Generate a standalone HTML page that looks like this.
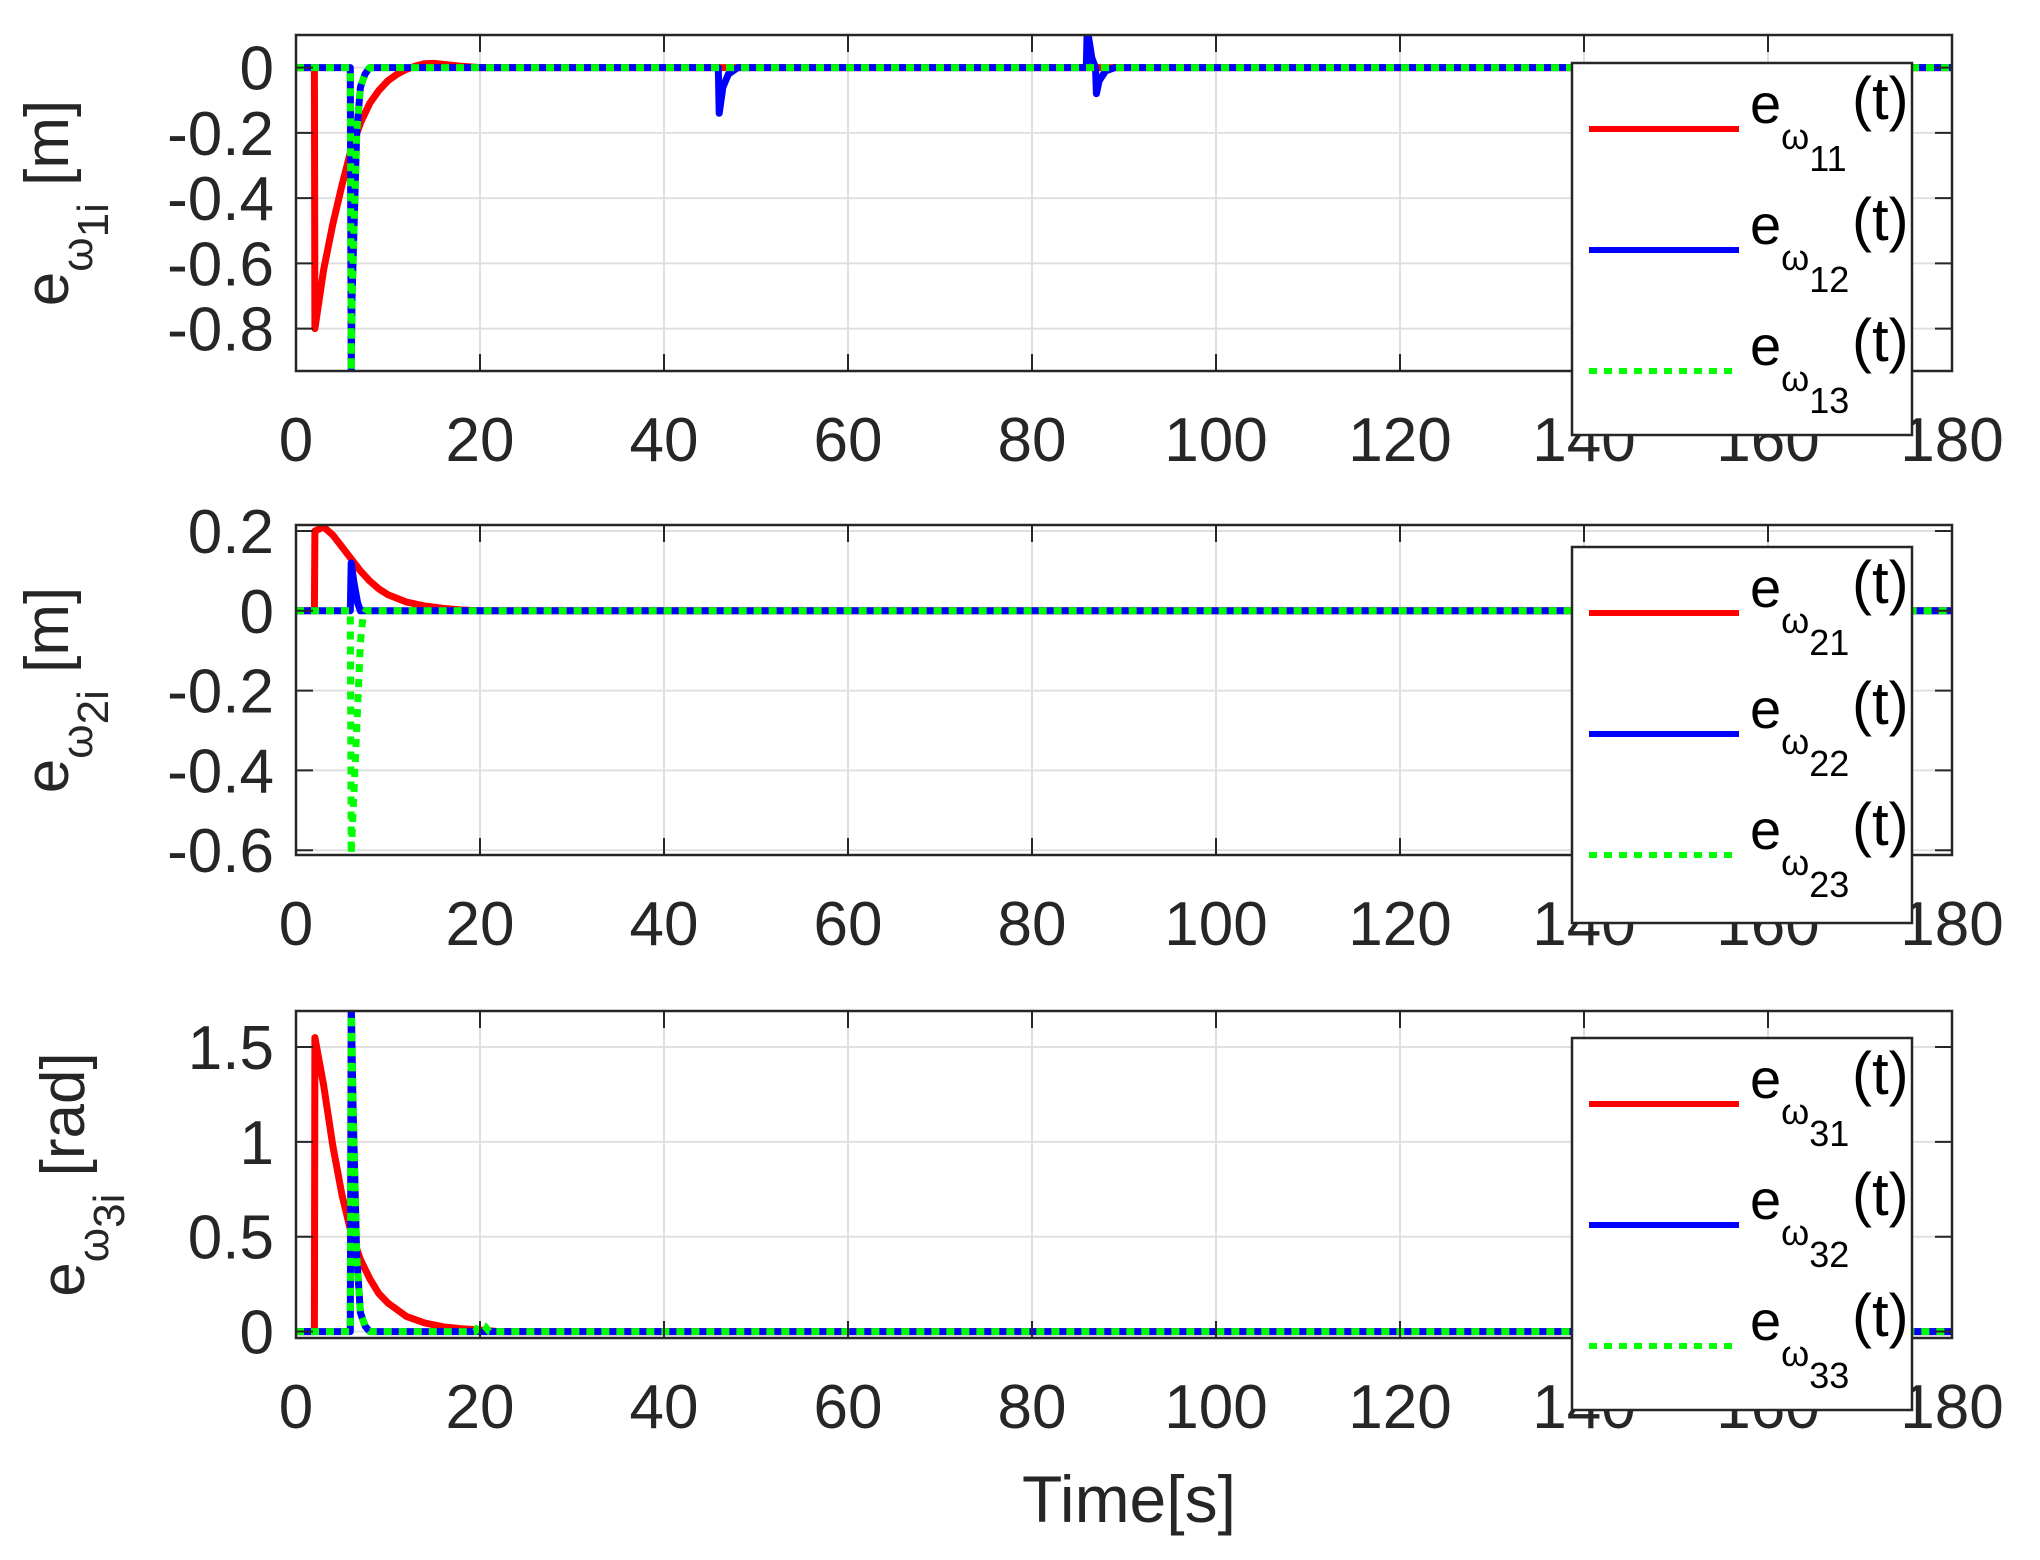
<!DOCTYPE html>
<html><head><meta charset="utf-8"><style>
html,body{margin:0;padding:0;background:#fff;}
svg{display:block;font-family:"Liberation Sans",sans-serif;}
</style></head><body>
<svg id="fig" width="2040" height="1560" viewBox="0 0 2040 1560" xmlns="http://www.w3.org/2000/svg"></svg>
<script>
// ---- data ----
const xTicks = [0,20,40,60,80,100,120,140,160,180];
const yTicks1 = [-0.8,-0.6,-0.4,-0.2,0];
const yTickLabels1 = ["-0.8","-0.6","-0.4","-0.2","0"];
const yTicks2 = [-0.6,-0.4,-0.2,0,0.2];
const yTickLabels2 = ["-0.6","-0.4","-0.2","0","0.2"];
const yTicks3 = [0,0.5,1,1.5];
const yTickLabels3 = ["0","0.5","1","1.5"];

const t11 = [0,2,2.05,3,4,5,6,7,8,9,10,11,12,13,14,15,16,18,20,30,60,100,140,180];
const e11 = [0,0,-0.8,-0.62,-0.48,-0.36,-0.25,-0.17,-0.11,-0.07,-0.04,-0.02,-0.005,0.005,0.012,0.013,0.01,0.004,0,0,0,0,0,0];
const t12 = [0,5.9,6,6.1,6.6,7,7.5,8,45.9,46,46.4,47,48,85.9,86,86.5,86.9,87,87.3,88,89,180];
const e12 = [0,0,-0.93,-0.7,-0.2,-0.06,-0.02,0,0,-0.14,-0.06,-0.02,0,0,0.12,0.03,0,-0.08,-0.04,-0.01,0,0];
const t13 = [0,5.9,6,6.1,6.6,7,7.5,8,180];
const e13 = [0,0,-0.93,-0.7,-0.2,-0.06,-0.02,0,0];

const t21 = [0,2,2.05,3,4,5,6,7,8,9,10,12,14,16,18,20,180];
const e21 = [0,0,0.2,0.21,0.19,0.16,0.13,0.1,0.075,0.055,0.04,0.022,0.012,0.006,0.002,0,0];
const t22 = [0,5.9,6,6.3,6.7,7,180];
const e22 = [0,0,0.12,0.07,0.02,0,0];
const t23 = [0,5.9,6,6.4,7,7.3,7.6,180];
const e23 = [0,0,-0.61,-0.4,-0.08,-0.01,0,0];

const t31 = [0,2,2.05,3,4,5,6,7,8,9,10,12,14,16,18,20,22,180];
const e31 = [0,0,1.55,1.3,0.98,0.72,0.52,0.38,0.28,0.2,0.15,0.08,0.045,0.025,0.015,0.008,0,0];
const t32 = [0,5.9,6,6.2,6.6,7,7.5,8,180];
const e32 = [0,0,1.75,1.2,0.4,0.1,0.03,0,0];
const t33 = [0,5.9,6,6.2,6.6,7,7.5,8,19.5,20,20.5,21,180];
const e33 = [0,0,1.75,1.2,0.4,0.1,0.03,0,0,0.04,0.03,0,0];

// ---- layout ----
const NS="http://www.w3.org/2000/svg";
const svg=document.getElementById('fig');
const L=296,R=1952;
const panels=[
 {top:35,bot:371,ymin:-0.93,ymax:0.1,yt:yTicks1,yl:yTickLabels1,idx:"1i",unit:"[m]",
  series:[[t11,e11,'#ff0000',0],[t12,e12,'#0000ff',0],[t13,e13,'#00ff00',1]],leg:{x1:1572,x2:1912,y1:63,y2:435}},
 {top:525,bot:855,ymin:-0.612,ymax:0.215,yt:yTicks2,yl:yTickLabels2,idx:"2i",unit:"[m]",
  series:[[t21,e21,'#ff0000',0],[t22,e22,'#0000ff',0],[t23,e23,'#00ff00',1]],leg:{x1:1572,x2:1912,y1:547,y2:923}},
 {top:1011,bot:1338,ymin:-0.034,ymax:1.69,yt:yTicks3,yl:yTickLabels3,idx:"3i",unit:"[rad]",
  series:[[t31,e31,'#ff0000',0],[t32,e32,'#0000ff',0],[t33,e33,'#00ff00',1]],leg:{x1:1572,x2:1912,y1:1038,y2:1410}}
];
function mk(tag,attrs,parent){const e=document.createElementNS(NS,tag);for(const k in attrs)e.setAttribute(k,attrs[k]);(parent||svg).appendChild(e);return e;}
const xs=v=>L+(v-0)/(180-0)*(R-L);

panels.forEach((p,pi)=>{
 const ys=v=>p.bot-(v-p.ymin)/(p.ymax-p.ymin)*(p.bot-p.top);
 const g=mk('g',{});
 
 
 mk('rect',{x:L,y:p.top,width:R-L,height:p.bot-p.top,fill:'#fff'},g);
 const cp=mk('clipPath',{id:'cp'+pi},g);
 mk('rect',{x:L,y:p.top,width:R-L,height:p.bot-p.top},cp);
 xTicks.forEach(v=>{const l=mk('line',{x1:xs(v),x2:xs(v),y1:p.top,y2:p.bot,stroke:'#e0e0e0','stroke-width':2},g);
   });
 p.yt.forEach(v=>{const l=mk('line',{x1:L,x2:R,y1:ys(v),y2:ys(v),stroke:'#e0e0e0','stroke-width':2},g);
   });
 p.series.forEach((s,si)=>{
  const [tt,vv,col,dot]=s;
  const d=tt.map((t,i)=>(i?'L':'M')+xs(t).toFixed(1)+','+ys(vv[i]).toFixed(1)).join(' ');
  const a={d:d,fill:'none',stroke:col,'stroke-width':7,'stroke-linejoin':'round','clip-path':'url(#cp'+pi+')'};
  if(dot)a['stroke-dasharray']='8,7';
  const path=mk('path',a,g);
  
  
 });
 xTicks.forEach(v=>{mk('line',{x1:xs(v),x2:xs(v),y1:p.top,y2:p.top+17,stroke:'#262626','stroke-width':2},g);
  mk('line',{x1:xs(v),x2:xs(v),y1:p.bot,y2:p.bot-17,stroke:'#262626','stroke-width':2},g);
  const tx=mk('text',{x:xs(v),y:p.bot+90,'font-size':62,'text-anchor':'middle',fill:'#262626'},g);
  tx.textContent=v;
  });
 p.yt.forEach((v,i)=>{mk('line',{x1:L,x2:L+17,y1:ys(v),y2:ys(v),stroke:'#262626','stroke-width':2},g);
  mk('line',{x1:R,x2:R-17,y1:ys(v),y2:ys(v),stroke:'#262626','stroke-width':2},g);
  const tx=mk('text',{x:L-22,y:ys(v)+22,'font-size':62,'text-anchor':'end',fill:'#262626'},g);
  tx.textContent=p.yl[i];
  });
 mk('rect',{x:L,y:p.top,width:R-L,height:p.bot-p.top,fill:'none',stroke:'#262626','stroke-width':2.5},g);
 const cy=(p.top+p.bot)/2, lx=p.idx==="3i"?84:68;
 const yl=mk('text',{transform:`translate(${lx},${cy}) rotate(-90)`,'font-size':62,'text-anchor':'middle',fill:'#262626'},g);
 yl.innerHTML=`e<tspan font-size="44" dy="24">ω</tspan><tspan font-size="44" dy="16">${p.idx}</tspan><tspan dy="-40"> ${p.unit}</tspan>`;
 
 const lg=p.leg;
 const lgG=mk('g',{},g);
 
 mk('rect',{x:lg.x1,y:lg.y1,width:lg.x2-lg.x1,height:lg.y2-lg.y1,fill:'#fff',stroke:'#262626','stroke-width':2.5},lgG);
 p.series.forEach((s,si)=>{
  const ly=lg.y1+66+si*121;
  const a={x1:1589,x2:1739,y1:ly,y2:ly,stroke:s[2],'stroke-width':6};
  if(s[3])a['stroke-dasharray']='8,7';
  mk('line',a,lgG);
  const tx=mk('text',{x:1750,y:ly-6,'font-size':56,fill:'#000'},lgG);
  tx.innerHTML=`e<tspan font-size="36" dy="26">ω</tspan><tspan font-size="36" dy="22">${pi+1}${si+1}</tspan>`;
  const tt=mk('text',{x:1852,y:ly-10,'font-size':60,fill:'#000'},lgG);
  tt.textContent='(t)';
  
 });
});
const xt=mk('text',{x:1129,y:1522,'font-size':66,'text-anchor':'middle',fill:'#262626'});
xt.textContent='Time[s]';


</script>
</body></html>
